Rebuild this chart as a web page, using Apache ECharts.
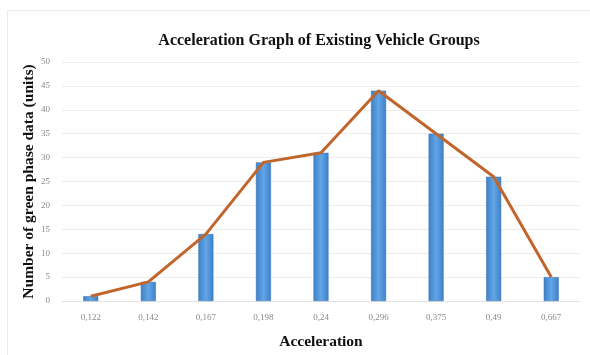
<!DOCTYPE html>
<html>
<head>
<meta charset="utf-8">
<script src="https://cdn.jsdelivr.net/npm/echarts@6/dist/echarts.min.js"></script>
<style>
  html, body { margin: 0; padding: 0; background: #fff; }
  #frame { position: absolute; left: 7px; top: 10px; width: 600px; height: 360px; border: 1px solid #ececec; }
  #chart { position: absolute; left: 0; top: 0; width: 590px; height: 355px; }
</style>
</head>
<body>
<div id="frame"></div>
<div id="chart"></div>
<script>
// data
const categories = ["0,122", "0,142", "0,167", "0,198", "0,24", "0,296", "0,375", "0,49", "0,667"];
const barValues = [1, 4, 14, 29, 31, 44, 35, 26, 5];
const lineValues = [1, 4, 14, 29, 31, 44, 35, 26, 5];

const chart = echarts.init(document.getElementById("chart"));

const serif = "Liberation Serif";

const option = {
  animation: false,
  title: {
    text: "Acceleration Graph of Existing Vehicle Groups",
    left: 314,
    top: 28,
    textAlign: "center",
    textStyle: { fontFamily: serif, fontWeight: "bold", fontSize: 16, color: "#111" }
  },
  grid: {
    left: 62,
    right: 10,
    top: 62,
    bottom: 51
  },
  xAxis: {
    type: "category",
    data: categories,
    name: "Acceleration",
    nameLocation: "middle",
    nameGap: 33,
    nameTextStyle: { fontFamily: serif, fontWeight: "bold", fontSize: 15.5, color: "#111" },
    axisLine: { show: true, lineStyle: { color: "#e2e2e2" } },
    axisTick: { show: false },
    axisLabel: { fontFamily: serif, fontSize: 9, color: "#8a8a8a", margin: 12 }
  },
  yAxis: {
    type: "value",
    min: 0,
    max: 50,
    interval: 5,
    name: "Number of green phase data (units)",
    nameLocation: "middle",
    nameGap: 25,
    nameMoveOverlap: false,
    nameTextStyle: { fontFamily: serif, fontWeight: "bold", fontSize: 15.5, color: "#111" },
    axisLine: { show: false },
    axisTick: { show: false },
    axisLabel: { fontFamily: serif, fontSize: 9, color: "#8a8a8a", margin: 12 },
    splitLine: { lineStyle: { color: "#ececec", width: 1 } }
  },
  series: [
    {
      type: "bar",
      data: barValues,
      barWidth: 15,
      itemStyle: {
        color: new echarts.graphic.LinearGradient(0, 0, 1, 0, [
          { offset: 0, color: "#3d80c8" },
          { offset: 0.5, color: "#62a6e6" },
          { offset: 1, color: "#3d80c8" }
        ]),
        borderColor: "#3571b3",
        borderWidth: 0.5
      }
    },
    {
      type: "line",
      data: lineValues,
      symbol: "none",
      lineStyle: { color: "#c0662d", width: 3 },
      z: 5
    }
  ]
};

chart.setOption(option);
</script>
</body>
</html>
